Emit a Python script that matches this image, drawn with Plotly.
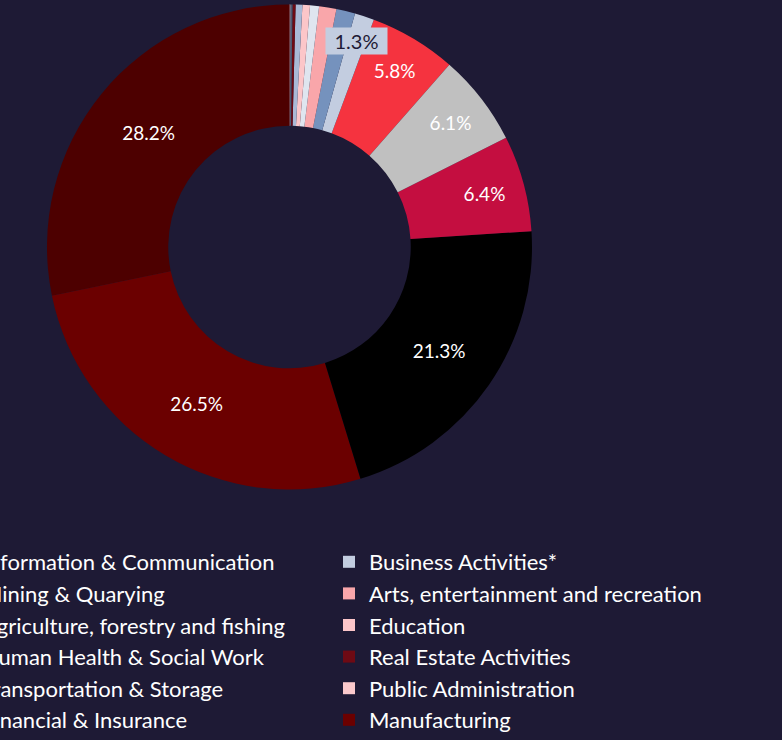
import math
import plotly.graph_objects as go


# ====================================
# DATA (legend order; the pie is rotated so slices keep their places)
# ====================================

sectors = [
    "Information & Communication",
    "Business Activities*",
    "Mining & Quarying",
    "Arts, entertainment and recreation",
    "Agriculture, forestry and fishing",
    "Education",
    "Human Health & Social Work",
    "Real Estate Activities",
    "Transportation & Storage",
    "Public Administration",
    "Financial & Insurance",
    "Manufacturing",
    "Wholesale & Retail Trade",
    "Professional & Scientific",
    "Construction",
]

shares = [5.8, 1.3, 1.25, 1.15, 0.6, 0.5, 0.45, 0.2, 0.15, 0.05,
          28.2, 26.5, 21.3, 6.4, 6.1]

colors = [
    "#f5333f", "#c3cde0", "#7592bd", "#f9a6aa", "#dfe5ef",
    "#fcc6c9", "#a9b9d6", "#6e0a14", "#4d5870", "#fbc9cc",
    "#4d0000", "#6b0000", "#000000", "#c40e40", "#c0c0c0",
]

# the small slice that gets a boxed label
boxed = "Business Activities*"

BG = "#1e1a35"
W, H = 782, 740
BOTTOM = 199
DOM_X = [0.0601, 0.6803]
DOM_Y = [0.0943, 0.9926]


# ====================================
# PIE
# ====================================

total = sum(shares)
labels_txt = [f"{v}%" if v >= 5 else "" for v in shares]

# first slice sits clockwise of the rotation line, the rest go counterclockwise
rotation = 360 * sum(shares[1:10]) / total

fig = go.Figure()

fig.add_trace(go.Pie(
    labels=sectors,
    values=shares,
    text=labels_txt,
    textinfo="text",
    textposition="inside",
    insidetextorientation="horizontal",
    textfont=dict(family="Lato", size=19, color="white"),
    marker=dict(colors=colors, line=dict(width=0)),
    hole=0.5,
    sort=False,
    direction="counterclockwise",
    rotation=rotation,
    domain=dict(x=DOM_X, y=DOM_Y),
    hovertemplate="%{label}: %{value}%<extra></extra>",
))

# boxed label for the small slice, placed at its mid angle
i = sectors.index(boxed)
ang = rotation - 360 * (sum(shares[1:i]) + shares[i] / 2) / total
plot_h = H - BOTTOM
R = min((DOM_X[1] - DOM_X[0]) * W, (DOM_Y[1] - DOM_Y[0]) * plot_h) / 2
cx = (DOM_X[0] + DOM_X[1]) / 2
cy = (DOM_Y[0] + DOM_Y[1]) / 2
rr = 0.893 * R

fig.add_annotation(
    x=cx + rr * math.sin(math.radians(ang)) / W,
    y=cy + rr * math.cos(math.radians(ang)) / plot_h,
    xref="paper", yref="paper",
    xanchor="center", yanchor="middle",
    text=f"{shares[i]}%",
    showarrow=False,
    font=dict(family="Lato", size=20, color=BG),
    bgcolor=colors[i],
    width=53, height=18,
    borderpad=4,
)


# ====================================
# LAYOUT
# ====================================

fig.update_layout(
    width=W,
    height=H,
    paper_bgcolor=BG,
    plot_bgcolor=BG,
    margin=dict(l=0, r=0, t=0, b=BOTTOM, autoexpand=False),
    showlegend=True,
    legend=dict(
        orientation="h",
        x=-0.0742,
        xanchor="left",
        y=0,
        yanchor="top",
        entrywidth=342,
        entrywidthmode="pixels",
        font=dict(family="Lato", size=22, color="white"),
        bgcolor="rgba(0,0,0,0)",
    ),
)

fig.write_html(
    "out.html",
    config={"displayModeBar": False},
    post_script="document.body.style.margin='0px';"
    "document.body.style.background='" + BG + "';",
)
